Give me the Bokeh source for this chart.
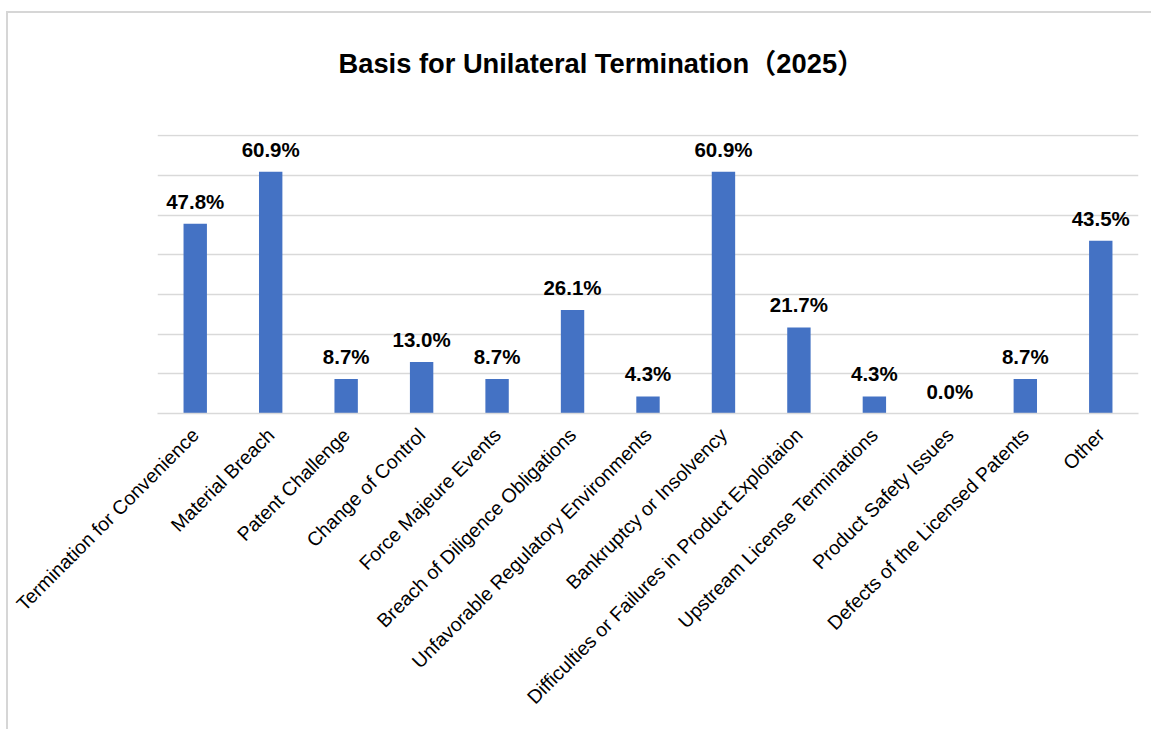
from math import pi
from bokeh.plotting import figure
from bokeh.models import ColumnDataSource, LabelSet, Range1d, FactorRange, FixedTicker, Title
from bokeh.core.properties import value
from bokeh.embed import file_html
from bokeh.resources import INLINE

categories = [
    "Termination for Convenience",
    "Material Breach",
    "Patent Challenge",
    "Change of Control",
    "Force Majeure Events",
    "Breach of Diligence Obligations",
    "Unfavorable Regulatory Environments",
    "Bankruptcy or Insolvency",
    "Difficulties or Failures in Product Exploitaion",
    "Upstream License Terminations",
    "Product Safety Issues",
    "Defects of the Licensed Patents",
    "Other",
]
values = [47.8, 60.9, 8.7, 13.0, 8.7, 26.1, 4.3, 60.9, 21.7, 4.3, 0.0, 8.7, 43.5]
value_labels = ["47.8%", "60.9%", "8.7%", "13.0%", "8.7%", "26.1%", "4.3%",
                "60.9%", "21.7%", "4.3%", "0.0%", "8.7%", "43.5%"]
grid_ticks = [0, 10, 20, 30, 40, 50, 60, 70]
title_text = "Basis for Unilateral Termination（2025）"

source = ColumnDataSource(dict(cat=categories, val=values, lab=value_labels))

p = figure(
    width=1145, height=718,
    x_range=FactorRange(*categories, range_padding=0),
    y_range=Range1d(0, 70.3),
    output_backend="svg", toolbar_location=None,
    min_border_left=149, min_border_right=15, min_border_top=121, min_border_bottom=318,
    margin=(11, 0, 0, 6),
    styles={"border-left": "2px solid #D6D6D6", "border-top": "2px solid #D6D6D6"},
)
p.outline_line_color = None
p.background_fill_color = "white"
p.border_fill_color = "white"

p.vbar(x="cat", top="val", width=0.31, source=source, fill_color="#4472C4", line_color=None)

labels = LabelSet(x="cat", y="val", text="lab", source=source, text_align="center",
                  text_baseline="alphabetic", y_offset=15, text_font=value("Liberation Sans"),
                  text_font_style="bold", text_font_size="20.5px", text_color="black")
p.add_layout(labels)

p.yaxis.visible = False
p.ygrid.ticker = FixedTicker(ticks=grid_ticks)
p.ygrid.grid_line_color = "#D9D9D9"
p.ygrid.grid_line_width = 1.5
p.xgrid.grid_line_color = None

ax = p.xaxis[0]
ax.axis_line_color = "#D9D9D9"
ax.axis_line_width = 1.5
ax.major_tick_line_color = None
ax.minor_tick_line_color = None
ax.major_label_orientation = pi / 4
ax.major_label_standoff = 12
ax.major_label_text_font = "Liberation Sans"
ax.major_label_text_font_size = "19.5px"
ax.major_label_text_color = "black"

spacer = Title(text=" ", text_font_size="30px", standoff=0)
p.add_layout(spacer, "above")

p.title = Title(text=title_text, align="left", offset=181, standoff=38, vertical_align="top",
                text_font="'Liberation Sans', 'Noto Sans CJK SC'", text_font_style="bold",
                text_font_size="27.3px", text_color="black")

open("out.html", "w").write(file_html(p, INLINE))
